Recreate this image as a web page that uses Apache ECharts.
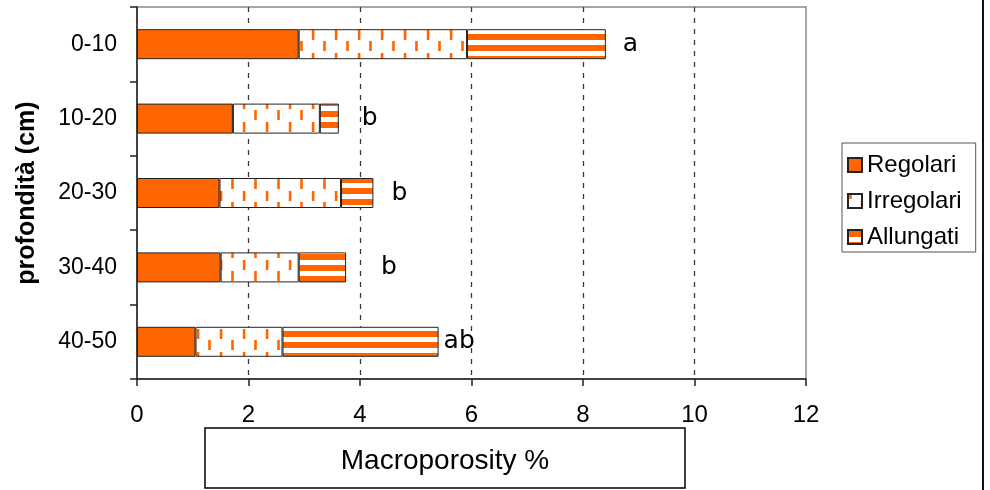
<!DOCTYPE html>
<html>
<head>
<meta charset="utf-8">
<script src="https://cdn.jsdelivr.net/npm/echarts@6/dist/echarts.min.js"></script>
<style>
  html, body { margin: 0; padding: 0; background: #ffffff; }
  #chart { width: 990px; height: 490px; }
</style>
</head>
<body>
<div id="chart"></div>
<script>
// Soil depth classes (cm)
const depths = ['0-10', '10-20', '20-30', '30-40', '40-50'];
// Macroporosity (%) by pore shape
const regolari   = [2.90, 1.72, 1.48, 1.50, 1.05];
const irregolari = [3.02, 1.56, 2.18, 1.40, 1.56];
const allungati  = [2.49, 0.34, 0.58, 0.85, 2.80];
// Significance letters per depth
const letters = ['a', 'b', 'b', 'b', 'ab'];
// Axis ticks
const xTicks = [0, 2, 4, 6, 8, 10, 12];

// ---- styling ----
const ORANGE = '#ff6600';
const EDGE = '#222222';
const letterGap = [17, 23, 18, 35, 5];

// Dashed fill for irregular pores
function dashPattern() {
  const c = document.createElement('canvas');
  c.width = 23; c.height = 23;
  const g = c.getContext('2d');
  g.fillStyle = '#ffffff';
  g.fillRect(0, 0, 23, 23);
  g.fillStyle = ORANGE;
  g.fillRect(12.8, 7, 2.6, 10);
  // second, staggered dash (wraps around the tile)
  [[1.2, 18], [1.2, -5], [24.2, 18], [-21.8, 18], [24.2, -5], [-21.8, -5]].forEach(function (p) {
    g.fillRect(p[0], p[1], 2.6, 10);
  });
  return c;
}
// Striped fill for elongated pores
function stripePattern() {
  const c = document.createElement('canvas');
  c.width = 11; c.height = 11;
  const g = c.getContext('2d');
  g.fillStyle = '#ffffff';
  g.fillRect(0, 0, 11, 11);
  g.fillStyle = ORANGE;
  g.fillRect(0, 1, 11, 6);
  return c;
}

const chart = echarts.init(document.getElementById('chart'), null, { renderer: 'canvas' });

const barBase = {
  type: 'bar',
  stack: 'tot',
  barWidth: 30,
  emphasis: { disabled: true }
};

// dashed grid lines at inner ticks; the frame itself closes the plot at 12
const gridColors = xTicks.map(function (t, i) {
  return (i === 0 || i === xTicks.length - 1) ? 'rgba(0,0,0,0)' : '#3a3a3a';
});

const option = {
  animation: false,
  backgroundColor: '#ffffff',
  grid: {
    left: 137, right: 184, top: 7, bottom: 111,
    show: true, borderColor: '#8a8a8a', borderWidth: 1.5
  },
  legend: {
    orient: 'vertical',
    left: 842, top: 143,
    padding: [10, 14, 3, 5],
    itemWidth: 14, itemHeight: 14, itemGap: 12,
    borderColor: '#555555', borderWidth: 1,
    icon: 'rect',
    textStyle: { fontFamily: 'Liberation Sans, Arial, sans-serif', fontSize: 24, color: '#000', lineHeight: 24 },
    data: ['Regolari', 'Irregolari', 'Allungati']
  },
  xAxis: {
    type: 'value',
    min: xTicks[0], max: xTicks[xTicks.length - 1], interval: 2,
    axisLine: { show: true, lineStyle: { color: '#222', width: 1.5 } },
    axisTick: { show: true, inside: false, length: 7, lineStyle: { color: '#222', width: 1.5 } },
    axisLabel: { margin: 24, fontFamily: 'Liberation Sans, Arial, sans-serif', fontSize: 24, color: '#000' },
    splitLine: { show: true, lineStyle: { color: gridColors, width: 1.3, type: [5, 6] } }
  },
  yAxis: {
    type: 'category',
    inverse: true,
    data: depths,
    name: 'profondità (cm)',
    nameLocation: 'middle',
    nameGap: 97,
    nameRotate: 90,
    nameTextStyle: { fontFamily: 'Liberation Sans, Arial, sans-serif', fontSize: 25, fontWeight: 'bold', color: '#000' },
    axisLine: { show: true, lineStyle: { color: '#222', width: 1.5 } },
    axisTick: { show: true, inside: false, length: 7, lineStyle: { color: '#222', width: 1.5 } },
    axisLabel: { margin: 20, fontFamily: 'Liberation Sans, Arial, sans-serif', fontSize: 23, color: '#000' },
    splitLine: { show: false }
  },
  series: [
    Object.assign({}, barBase, {
      name: 'Regolari',
      data: regolari,
      itemStyle: { color: ORANGE, borderColor: EDGE, borderWidth: 1 }
    }),
    Object.assign({}, barBase, {
      name: 'Irregolari',
      data: irregolari,
      itemStyle: { color: { image: dashPattern(), repeat: 'repeat' }, borderColor: EDGE, borderWidth: 1 }
    }),
    Object.assign({}, barBase, {
      name: 'Allungati',
      data: allungati.map(function (v, i) {
        return { value: v, label: { distance: letterGap[i] } };
      }),
      itemStyle: { color: { image: stripePattern(), repeat: 'repeat' }, borderColor: EDGE, borderWidth: 1 },
      label: {
        show: true,
        position: 'right',
        formatter: function (p) { return letters[p.dataIndex]; },
        fontFamily: 'DejaVu Sans, sans-serif',
        fontSize: 25,
        color: '#000'
      }
    })
  ],
  graphic: [
    {
      type: 'rect',
      shape: { x: 205, y: 428, width: 480, height: 60 },
      style: { fill: '#ffffff', stroke: '#000', lineWidth: 1.5 }
    },
    {
      type: 'text',
      x: 445, y: 461,
      style: {
        text: 'Macroporosity %',
        fontFamily: 'Liberation Sans, Arial, sans-serif',
        fontSize: 28,
        fill: '#000',
        align: 'center',
        verticalAlign: 'middle'
      }
    },
    {
      type: 'line',
      shape: { x1: 983, y1: 0, x2: 983, y2: 490 },
      style: { stroke: '#111', lineWidth: 2 }
    }
  ]
};

chart.setOption(option);
</script>
</body>
</html>
